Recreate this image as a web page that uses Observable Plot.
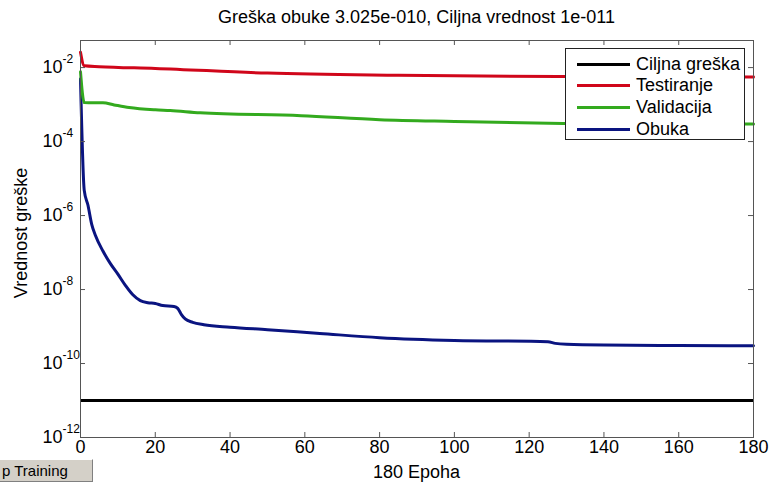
<!DOCTYPE html>
<html><head><meta charset="utf-8">
<script src="https://cdn.jsdelivr.net/npm/d3@7"></script>
<script src="https://cdn.jsdelivr.net/npm/@observablehq/plot@0.6"></script>
<style>
body{margin:0;background:#fff;}
#wrap{position:relative;width:771px;height:482px;overflow:hidden;font-family:"Liberation Sans",Arial,sans-serif;color:#000;background:#fff;}
#wrap svg{position:absolute;left:0;top:0;}
.abs{position:absolute;white-space:nowrap;line-height:1;}
#title{left:80px;width:673px;text-align:center;top:8px;font-size:18px;}
#xlabel{left:80px;width:673px;text-align:center;top:463px;font-size:18px;}
#ylabel{left:21px;top:233px;font-size:18px;transform:translate(-50%,-50%) rotate(-90deg);}
#btn{left:-2px;top:459px;width:95px;height:23px;box-sizing:border-box;background:#d4d0c8;border-top:1px solid #fff;border-left:1px solid #fff;border-right:1px solid #808080;border-bottom:1px solid #808080;font-size:15px;line-height:21px;padding-left:3px;}
#legend{left:565px;top:48px;width:180px;height:92px;box-sizing:border-box;border:1px solid #222;background:#fff;}
.li{position:absolute;left:11px;width:53px;height:3px;}
.lt{position:absolute;left:70px;font-size:18px;line-height:1;white-space:nowrap;}
</style></head><body><div id="wrap"></div>
<script>
// ---- data ----
const goalValue = 1e-11;
const testEpochs = [0, 1, 5, 20, 50, 85, 130, 180];
const testErr    = [0.026, 0.0112, 0.0106, 0.0095, 0.0071, 0.0062, 0.0057, 0.0056];
const valEpochs  = [0, 1, 6, 9, 13, 20, 24, 32, 59, 80, 100, 129, 150, 180];
const valErr     = [0.0077, 0.00113, 0.00112, 0.00098, 0.00083, 0.00072, 0.00069, 0.0006, 0.0005, 0.00039, 0.00035, 0.00031, 0.0003, 0.0003];
const trainEpochs = [0, 1, 2, 3, 4, 6, 8, 10, 12, 14, 16, 18, 20, 22, 25, 26, 27, 28, 30, 33, 40, 50, 64, 80, 100, 125, 127, 130, 140, 160, 180];
const trainErr    = [5e-3, 4.8e-6, 1.9e-6, 5.8e-7, 2.9e-7, 1.1e-7, 5.0e-8, 2.6e-8, 1.3e-8, 7.2e-9, 5.0e-9, 4.4e-9, 4.2e-9, 3.7e-9, 3.5e-9, 3.1e-9, 2.1e-9, 1.6e-9, 1.3e-9, 1.12e-9, 9.6e-10, 8.2e-10, 6.5e-10, 5.0e-10, 4.2e-10, 3.9e-10, 3.5e-10, 3.3e-10, 3.15e-10, 3.08e-10, 3.025e-10];
const xTicks = [0, 20, 40, 60, 80, 100, 120, 140, 160, 180];
const yExponents = [-12, -10, -8, -6, -4, -2];
const seriesNames = ["Ciljna greška", "Testiranje", "Validacija", "Obuka"];
const seriesColors = ["#000000", "#d0061a", "#33aa1e", "#0a1480"];
const titleText = "Greška obuke 3.025e-010, Ciljna vrednost 1e-011";
const xLabelText = "180 Epoha";
const yLabelText = "Vrednost greške";

const zip = (xs, ys) => xs.map((x, i) => ({epoch: x, err: ys[i]}));
const test = zip(testEpochs, testErr);
const val = zip(valEpochs, valErr);
const train = zip(trainEpochs, trainErr);
const yTicks = yExponents.map(e => Math.pow(10, e));
const axisColor = "#555";
const W = 771, H = 482, mL = 80, mR = 18, mT = 40, mB = 45, tick = 5;
const frameW = W - mL - mR, frameH = H - mT - mB;

const plot = Plot.plot({
  width: W, height: H,
  marginLeft: mL, marginRight: mR, marginTop: mT, marginBottom: mB,
  x: {domain: [0, 180], axis: null},
  y: {type: "log", domain: [1e-12, 0.054], axis: null},
  style: {fontFamily: "'Liberation Sans', Arial, sans-serif", fontSize: "18px", background: "transparent", color: "#000"},
  marks: [
    Plot.line(train, {x: "epoch", y: "err", stroke: seriesColors[3], strokeWidth: 3, curve: "monotone-x"}),
    Plot.line(val, {x: "epoch", y: "err", stroke: seriesColors[2], strokeWidth: 3, curve: "monotone-x"}),
    Plot.line(test, {x: "epoch", y: "err", stroke: seriesColors[1], strokeWidth: 3, curve: "monotone-x"}),
    Plot.ruleY([goalValue], {stroke: seriesColors[0], strokeWidth: 3}),
    Plot.frame({stroke: axisColor}),
    // inward tick marks on all four sides
    Plot.tickX(xTicks, {x: d => d, stroke: axisColor, insetTop: frameH - tick}),
    Plot.tickX(xTicks, {x: d => d, stroke: axisColor, insetBottom: frameH - tick}),
    Plot.tickY(yTicks, {y: d => d, stroke: axisColor, insetRight: frameW - tick}),
    Plot.tickY(yTicks, {y: d => d, stroke: axisColor, insetLeft: frameW - tick}),
    Plot.text(xTicks, {x: d => d, frameAnchor: "bottom", dy: 15, text: d => String(d), fontSize: 18}),
    Plot.text(yExponents, {y: d => Math.pow(10, d), frameAnchor: "left", dx: -18, textAnchor: "end", text: () => "10", fontSize: 18}),
    Plot.text(yExponents, {y: d => Math.pow(10, d), frameAnchor: "left", dx: -18, dy: -8, textAnchor: "start", text: d => String(d), fontSize: 12})
  ]
});

const wrap = document.getElementById("wrap");
wrap.appendChild(plot);
const add = (id, text) => { const d = document.createElement("div"); d.id = id; d.className = "abs"; d.textContent = text; wrap.appendChild(d); return d; };
add("title", titleText);
add("xlabel", xLabelText);
add("ylabel", yLabelText);
add("btn", "p Training");
const leg = add("legend", "");
const rowTops = [15, 36, 58, 80];
seriesNames.forEach((name, i) => {
  const l = document.createElement("div"); l.className = "li";
  l.style.top = (rowTops[i] - 1.5) + "px"; l.style.background = seriesColors[i]; leg.appendChild(l);
  const t = document.createElement("div"); t.className = "lt";
  t.style.top = (rowTops[i] - 9) + "px"; t.textContent = name; leg.appendChild(t);
});
</script></body></html>
